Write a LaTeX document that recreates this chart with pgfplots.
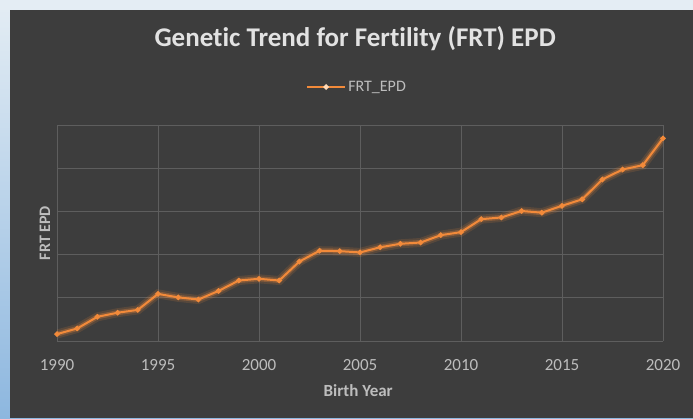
\documentclass[border=0pt]{standalone}
\usepackage{pgfplots}
\pgfplotsset{compat=1.18}
\usepackage{pgfplotstable}
\usepackage{fontspec}
\setmainfont{Carlito}[Ligatures=NoCommon]
\definecolor{bgdark}{HTML}{3D3D3D}
\definecolor{gridc}{HTML}{5E5E5E}
\definecolor{tickc}{HTML}{BDBDBD}
\definecolor{titlec}{HTML}{E2E2E2}
\definecolor{lineor}{HTML}{F28A3A}
\definecolor{markc}{HTML}{FFD9B5}
\definecolor{skyA}{HTML}{E4EDF4}
\definecolor{skyB}{HTML}{8DB7DF}
\pgfplotstableread{
year val
1990 0.16
1991 0.29
1992 0.56
1993 0.655
1994 0.72
1995 1.09
1996 1.01
1997 0.96
1998 1.16
1999 1.40
2000 1.44
2001 1.40
2002 1.84
2003 2.09
2004 2.08
2005 2.05
2006 2.17
2007 2.25
2008 2.28
2009 2.45
2010 2.52
2011 2.82
2012 2.86
2013 3.01
2014 2.97
2015 3.13
2016 3.28
2017 3.74
2018 3.97
2019 4.07
2020 4.69
}\frtdata
\begin{document}
\begin{tikzpicture}
\useasboundingbox (0pt,0pt) rectangle (693pt,418pt);
\shade[top color=skyA, bottom color=skyB] (0pt,0pt) rectangle (693pt,418pt);
\fill[skyA] (0pt,408pt) rectangle (693pt,418pt);
\fill[bgdark] (10pt,0pt) rectangle (693pt,408pt);
\begin{axis}[
  at={(57pt,77pt)}, anchor=south west,
  scale only axis, width=606pt, height=216pt,
  xmin=1990, xmax=2020, ymin=0, ymax=5,
  xtick={1990,1995,...,2020}, ytick={0,1,...,5}, yticklabels={},
  xticklabel style={/pgf/number format/1000 sep={}, font=\fontsize{17}{20}\selectfont, text=tickc},
  x tick label style={yshift=-15pt},
  major tick length=0pt,
  grid=major, grid style={gridc, line width=1pt},
  axis line style={draw=none},
  /pgf/number format/assume math mode=true,
  title={Genetic Trend for Fertility (FRT) EPD},
  title style={at={(axis description cs:0.492,1.37)}, anchor=center, font=\bfseries\fontsize{27}{31}\selectfont, text=titlec},
  xlabel={Birth Year},
  xlabel style={at={(axis description cs:0.497,-0.231)}, anchor=center, font=\bfseries\fontsize{17}{20}\selectfont, text=tickc},
  ylabel={FRT EPD},
  ylabel style={at={(axis description cs:-0.02,0.5)}, anchor=center, rotate=0, font=\bfseries\fontsize{16}{19}\selectfont, text=tickc},
  legend style={at={(axis description cs:0.495,1.176)}, anchor=center, draw=none, fill=none, text=tickc, font=\fontsize{16}{19}\selectfont, legend columns=1, inner sep=0pt},
  legend cell align=left,
  legend image code/.code={\draw[lineor, line width=2.2pt] (0pt,0pt) -- (38pt,0pt); \fill[markc] (19pt,0pt) circle (1.6pt);},
]
\addplot[lineor, line width=9pt, opacity=0.15, forget plot] table[x=year,y=val]{\frtdata};
\addplot[lineor, line width=5pt, opacity=0.3, forget plot] table[x=year,y=val]{\frtdata};
\addplot[lineor, line width=2pt, mark=*, mark size=1.6pt, mark options={fill=markc, draw=none}] table[x=year,y=val]{\frtdata};
\addlegendentry{FRT\_EPD}
\end{axis}
\end{tikzpicture}
\end{document}
